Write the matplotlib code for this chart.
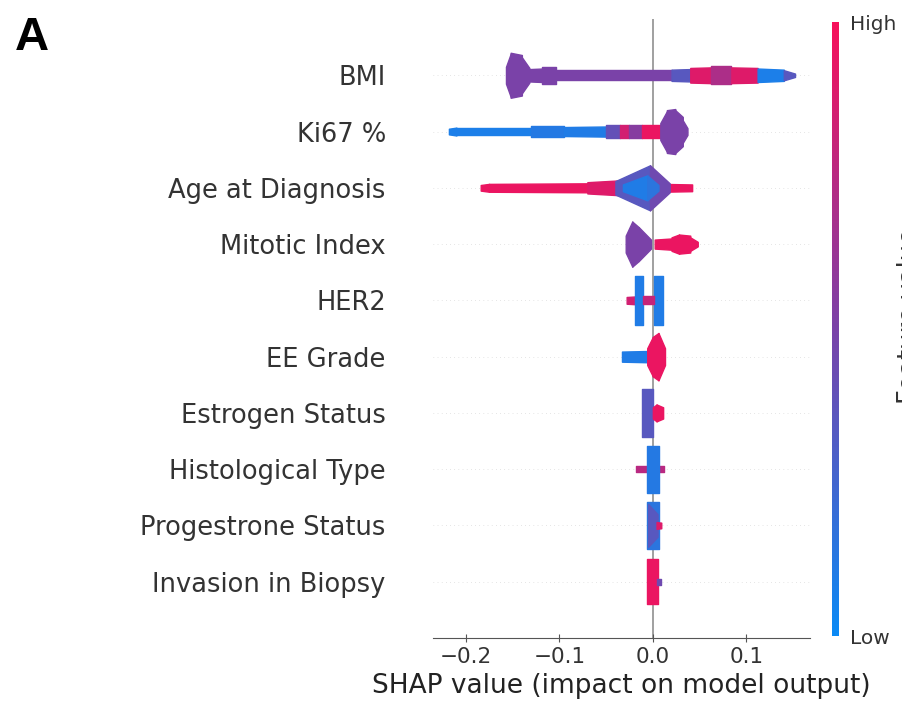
import matplotlib.pyplot as plt
from matplotlib.colors import LinearSegmentedColormap
from matplotlib.cm import ScalarMappable

features = ["Invasion in Biopsy", "Progestrone Status", "Histological Type",
            "Estrogen Status", "EE Grade", "HER2", "Mitotic Index",
            "Age at Diagnosis", "Ki67 %", "BMI"]

# shape of each swarm:
# (shap from, shap to, half height at start, half height at end, feature value 0=low 1=high)
invasion = [(-0.006, 0.005, 0.40, 0.40, 0.95),
            (0.004, 0.009, 0.05, 0.05, 0.45)]
progestrone = [(-0.006, 0.007, 0.41, 0.41, 0.15),
               (-0.005, 0.005, 0.38, 0.20, 0.35),
               (0.004, 0.009, 0.06, 0.05, 0.9)]
histological = [(-0.018, 0.012, 0.05, 0.05, 0.75),
                (-0.006, 0.007, 0.42, 0.42, 0.12)]
estrogen = [(-0.012, 0.0, 0.42, 0.42, 0.35),
            (0.0, 0.004, 0.10, 0.15, 0.95),
            (0.004, 0.011, 0.15, 0.10, 0.95)]
ee_grade = [(-0.033, -0.006, 0.09, 0.10, 0.1),
            (-0.006, 0.0, 0.15, 0.35, 0.95),
            (0.0, 0.006, 0.35, 0.42, 0.95),
            (0.006, 0.013, 0.42, 0.15, 0.95)]
her2 = [(-0.028, -0.018, 0.06, 0.07, 0.85),
        (-0.019, -0.011, 0.44, 0.44, 0.1),
        (0.001, 0.011, 0.43, 0.43, 0.1),
        (-0.011, 0.001, 0.07, 0.07, 0.8)]
mitotic = [(0.002, 0.020, 0.08, 0.10, 0.95),
           (0.020, 0.028, 0.12, 0.17, 0.95),
           (0.028, 0.040, 0.17, 0.15, 0.95),
           (0.040, 0.048, 0.12, 0.04, 0.95),
           (-0.029, -0.022, 0.15, 0.40, 0.5),
           (-0.022, -0.015, 0.40, 0.30, 0.5),
           (-0.015, -0.002, 0.30, 0.08, 0.5)]
age = [(-0.184, -0.175, 0.05, 0.07, 0.95),
       (-0.175, -0.070, 0.07, 0.08, 0.95),
       (-0.070, -0.038, 0.10, 0.13, 0.9),
       (0.010, 0.042, 0.07, 0.06, 0.95),
       (-0.040, -0.003, 0.12, 0.40, 0.35),
       (-0.003, 0.018, 0.40, 0.08, 0.45),
       (-0.032, -0.006, 0.06, 0.22, 0.1),
       (-0.006, 0.006, 0.22, 0.05, 0.15)]
ki67 = [(-0.218, -0.210, 0.05, 0.07, 0.08),
        (-0.210, -0.130, 0.07, 0.07, 0.08),
        (-0.130, -0.095, 0.09, 0.09, 0.12),
        (-0.095, -0.050, 0.08, 0.09, 0.1),
        (-0.050, -0.035, 0.12, 0.12, 0.4),
        (-0.035, -0.025, 0.12, 0.12, 0.85),
        (-0.025, -0.012, 0.12, 0.12, 0.55),
        (-0.012, 0.012, 0.12, 0.12, 0.95),
        (0.008, 0.015, 0.15, 0.36, 0.5),
        (0.015, 0.024, 0.38, 0.40, 0.5),
        (0.024, 0.032, 0.38, 0.26, 0.5),
        (0.032, 0.037, 0.20, 0.06, 0.5)]
bmi = [(-0.157, -0.152, 0.15, 0.38, 0.5),
       (-0.152, -0.140, 0.40, 0.36, 0.5),
       (-0.140, -0.132, 0.32, 0.13, 0.5),
       (-0.132, -0.118, 0.11, 0.12, 0.5),
       (-0.118, -0.104, 0.15, 0.15, 0.5),
       (-0.104, 0.020, 0.09, 0.09, 0.5),
       (0.020, 0.040, 0.10, 0.11, 0.35),
       (0.040, 0.062, 0.13, 0.14, 0.9),
       (0.062, 0.084, 0.16, 0.16, 0.7),
       (0.084, 0.112, 0.14, 0.13, 0.9),
       (0.112, 0.140, 0.12, 0.10, 0.08),
       (0.140, 0.152, 0.09, 0.03, 0.35)]

profiles = [invasion, progestrone, histological, estrogen, ee_grade,
            her2, mitotic, age, ki67, bmi]

xticks = [-0.2, -0.1, 0.0, 0.1]

cmap = LinearSegmentedColormap.from_list("red_blue", ["#0a8af5", "#7a42a8", "#f7105a"])

fig = plt.figure(figsize=(9.03, 7.1), dpi=100)
ax = fig.add_axes([433 / 903, 72 / 710, 377 / 903, 619 / 710])

ax.axvline(0, color="#999999", lw=1.3, zorder=-1)
for row, segs in enumerate(profiles):
    ax.axhline(row, color="#cccccc", lw=0.5, dashes=(1, 5), zorder=-1)
    for x0, x1, w0, w1, c in segs:
        col = cmap(c)
        ax.fill_between([x0, x1], [row - w0, row - w1], [row + w0, row + w1],
                        color=col, edgecolor=col, lw=1.0)

ax.set_xlim(-0.235, 0.168)
ax.set_ylim(-1, len(features))
for side in ["top", "right", "left"]:
    ax.spines[side].set_visible(False)
ax.spines["bottom"].set_color("#555555")

ax.set_yticks(range(len(features)))
ax.set_yticklabels(features, fontsize=18.5, color="#333333")
ax.tick_params(axis="y", length=0, pad=34)
ax.set_xticks(xticks)
ax.tick_params(axis="x", labelsize=15.5, labelcolor="#333333", color="#555555",
               direction="inout", length=6)
ax.set_xlabel("SHAP value (impact on model output)", fontsize=19, color="#222222")

cax = fig.add_axes([832 / 903, 74 / 710, 7 / 903, 614 / 710])
cb = fig.colorbar(ScalarMappable(cmap=cmap), cax=cax, ticks=[0, 1])
cb.set_ticklabels(["Low", "High"])
cb.outline.set_visible(False)
cax.tick_params(length=0, labelsize=14.5, labelcolor="#333333", pad=8)

# the reference crops this label at the right edge
fig.text(897 / 903, 0.555, "Feature value", rotation=90, ha="left", va="center",
         fontsize=18.5, color="#333333")
fig.text(15 / 903, 1 - 50 / 710, "A", fontsize=34, fontweight="bold",
         family="Liberation Sans", ha="left", va="baseline")

fig.savefig("out.png", dpi=100)
